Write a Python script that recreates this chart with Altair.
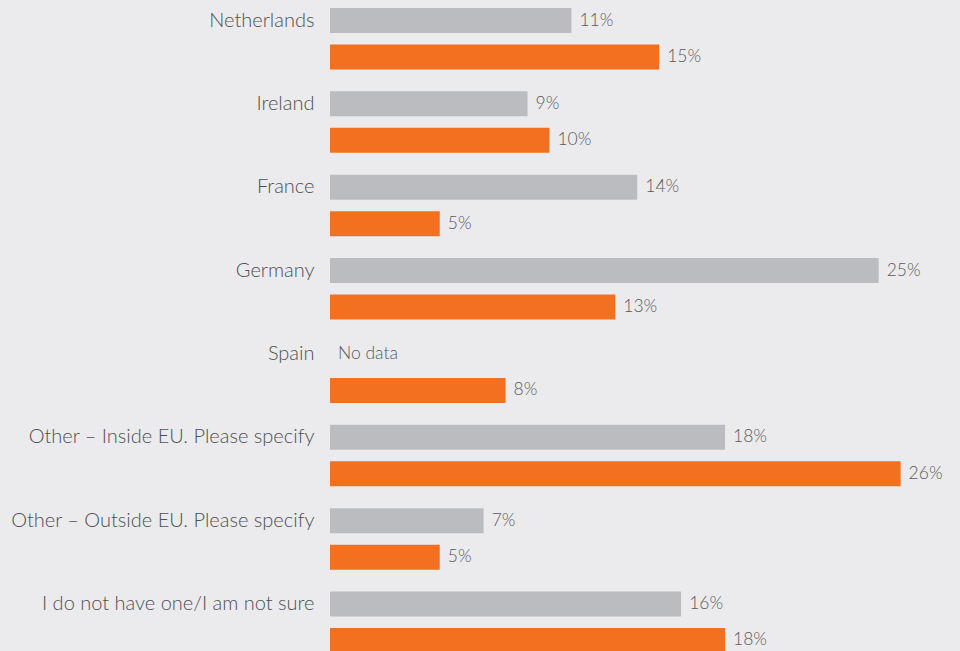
import altair as alt
import pandas as pd

categories = [
    "Netherlands", "Ireland", "France", "Germany", "Spain",
    "Other – Inside EU. Please specify",
    "Other – Outside EU. Please specify",
    "I do not have one/I am not sure",
]
series_names = ["Previous", "Current"]
previous_values = [11, 9, 14, 25, None, 18, 7, 16]
current_values = [15, 10, 5, 13, 8, 26, 5, 18]
colors = ["#bbbcbf", "#f37021"]

rows = []
for cat, pv, cv in zip(categories, previous_values, current_values):
    for s, v in zip(series_names, [pv, cv]):
        rows.append({
            "category": cat,
            "series": s,
            "value": v,
            "pos": v if v is not None else 0,
            "label": f"{v}%" if v is not None else "No data",
        })
df = pd.DataFrame(rows)

FONT = "Lato"

y_enc = alt.Y("category:N", sort=categories,
              scale=alt.Scale(paddingInner=0.262, paddingOuter=0),
              axis=alt.Axis(title=None, domain=False, ticks=False, labelPadding=16,
                            labelFontSize=20, labelColor="#4f4f52", labelFont=FONT,
                            labelFontWeight=300, labelOffset=-18.25,
                            minExtent=322, maxExtent=322, labelLimit=400))
yoff = alt.YOffset("series:N", sort=series_names,
                   scale=alt.Scale(paddingInner=0.315, paddingOuter=0))
x_scale = alt.Scale(domain=[0, 28.25], nice=False)

bars = alt.Chart(df).mark_bar().encode(
    x=alt.X("value:Q", scale=x_scale, axis=None),
    y=y_enc,
    yOffset=yoff,
    color=alt.Color("series:N", sort=series_names,
                    scale=alt.Scale(domain=series_names, range=colors), legend=None),
)

labels = alt.Chart(df).mark_text(align="left", baseline="middle", dx=8,
                                 fontSize=17.5, font=FONT, fontWeight=300,
                                 color="#5a5a5d").encode(
    x=alt.X("pos:Q", scale=x_scale, axis=None),
    y=y_enc,
    yOffset=yoff,
    text="label:N",
)

chart = alt.layer(bars, labels).properties(
    width=620, height=645, background="#ebebed", padding=0
).configure_view(stroke=None)

chart.save("out.html", embed_options={"renderer": "svg", "actions": False,
                                      "defaultStyle": "body{background:#ebebed;}"})
